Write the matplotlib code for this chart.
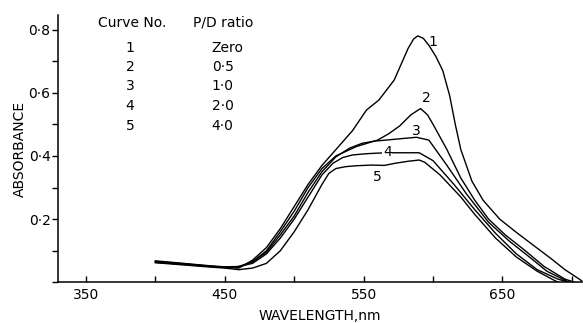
import matplotlib
matplotlib.use("Agg")
import matplotlib.pyplot as plt
from matplotlib.ticker import MultipleLocator

plt.rcParams['font.family'] = ['DejaVu Sans']

# spectra (wavelength nm, absorbance)
wl1 = [400, 420, 440, 450, 460, 470, 480, 490, 500, 510, 520, 523, 530, 542, 552, 561, 572, 577,
       582, 586, 589, 593, 597, 602, 607, 612, 616, 620, 628, 636, 648, 660, 672, 685, 695, 707]
ab1 = [0.066, 0.059, 0.051, 0.048, 0.045, 0.070, 0.110, 0.170, 0.240, 0.310, 0.370, 0.385, 0.420,
       0.480, 0.545, 0.577, 0.640, 0.690, 0.740, 0.770, 0.780, 0.772, 0.750, 0.715, 0.670, 0.590,
       0.500, 0.420, 0.320, 0.260, 0.200, 0.158, 0.118, 0.075, 0.040, 0.005]

wl2 = [400, 420, 440, 450, 460, 470, 480, 490, 500, 510, 520, 530, 545, 560, 568, 576, 584, 591,
       596, 600, 610, 620, 630, 640, 652, 665, 680, 695, 702]
ab2 = [0.063, 0.057, 0.050, 0.047, 0.047, 0.065, 0.100, 0.160, 0.225, 0.300, 0.360, 0.400, 0.430,
       0.450, 0.470, 0.495, 0.530, 0.550, 0.530, 0.500, 0.420, 0.330, 0.260, 0.200, 0.150, 0.105,
       0.050, 0.010, 0.000]

wl3 = [400, 420, 440, 450, 460, 470, 480, 490, 500, 510, 520, 530, 540, 549, 558, 566, 578, 588,
       597, 610, 624, 640, 655, 668, 682, 698]
ab3 = [0.068, 0.060, 0.052, 0.049, 0.050, 0.065, 0.095, 0.150, 0.210, 0.285, 0.350, 0.397, 0.425,
       0.440, 0.447, 0.450, 0.455, 0.459, 0.450, 0.370, 0.280, 0.190, 0.130, 0.085, 0.035, 0.000]

wl4 = [400, 420, 440, 450, 460, 470, 480, 490, 500, 510, 520, 528, 535, 542, 552, 561, 570, 580,
       590, 600, 615, 630, 645, 660, 675, 690, 698]
ab4 = [0.064, 0.057, 0.050, 0.047, 0.050, 0.060, 0.090, 0.140, 0.200, 0.270, 0.340, 0.377, 0.395,
       0.403, 0.407, 0.409, 0.410, 0.410, 0.410, 0.385, 0.310, 0.230, 0.155, 0.090, 0.040, 0.010, 0.000]

wl5 = [400, 420, 440, 450, 460, 470, 480, 490, 500, 510, 520, 525, 530, 537, 545, 556, 565, 573,
       582, 590, 594, 605, 620, 630, 645, 660, 675, 690]
ab5 = [0.062, 0.055, 0.048, 0.045, 0.040, 0.045, 0.060, 0.100, 0.160, 0.230, 0.310, 0.345, 0.360,
       0.366, 0.369, 0.371, 0.370, 0.377, 0.383, 0.387, 0.380, 0.340, 0.270, 0.215, 0.140, 0.080,
       0.035, 0.000]

curves = [(wl1, ab1), (wl2, ab2), (wl3, ab3), (wl4, ab4), (wl5, ab5)]
curve_no = ['1', '2', '3', '4', '5']
pd_ratio = ['Zero', '0·5', '1·0', '2·0', '4·0']
# where the curve numbers sit next to the lines
lab_x = [600, 595, 588, 567, 560]
lab_y = [0.76, 0.583, 0.48, 0.412, 0.333]

xticks = [350, 450, 550, 650]
yticks = [0.2, 0.4, 0.6, 0.8]
ytick_labels = ['0·2', '0·4', '0·6', '0·8']

fig = plt.figure(figsize=(5.83, 3.23), dpi=100)
ax = fig.add_axes([57.5 / 583, 40.7 / 323, 1 - 57.5 / 583, 267.3 / 323])

for wl, ab in curves:
    ax.plot(wl, ab, color='black', lw=1.0)

for i in range(5):
    bg = dict(facecolor='white', edgecolor='none', pad=0.5) if i == 3 else None
    ax.text(lab_x[i], lab_y[i], curve_no[i], fontsize=10, ha='center', va='center', bbox=bg)

# little table in the corner
ax.text(358.6, 0.821, 'Curve No.', fontsize=10, ha='left', va='center')
ax.text(427, 0.821, 'P/D ratio', fontsize=10, ha='left', va='center')
rows_y = [0.740, 0.681, 0.621, 0.558, 0.495]
for i in range(5):
    ax.text(381.7, rows_y[i], curve_no[i], fontsize=10, ha='center', va='center')
    ax.text(440.6, rows_y[i], pd_ratio[i], fontsize=10, ha='left', va='center')

ax.set_xlim(329.5, 708)
ax.set_ylim(0, 0.846)
ax.spines['top'].set_visible(False)
ax.spines['right'].set_visible(False)
ax.spines['left'].set_linewidth(1.1)
ax.spines['bottom'].set_linewidth(1.1)

ax.set_xticks(xticks)
ax.set_xticklabels([str(t) for t in xticks])
ax.xaxis.set_minor_locator(MultipleLocator(50))
ax.set_yticks(yticks)
ax.set_yticklabels(ytick_labels)
ax.yaxis.set_minor_locator(MultipleLocator(0.1))
ax.tick_params(axis='x', which='both', direction='in', length=4, width=1, labelsize=10, pad=4)
ax.tick_params(axis='y', which='both', direction='out', length=4, width=1, labelsize=10, pad=1)

ax.set_xlabel('WAVELENGTH,nm', fontsize=10, labelpad=5)
ax.set_ylabel('ABSORBANCE', fontsize=10, labelpad=1)

fig.savefig('out.png', dpi=100)
